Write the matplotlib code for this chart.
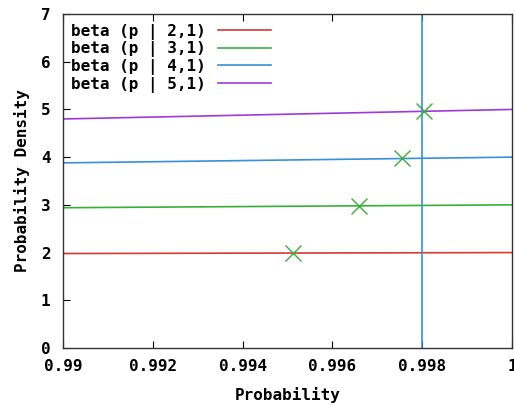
import matplotlib
matplotlib.use("Agg")
import matplotlib.pyplot as plt

# Data
x_curve = [0.99, 0.995, 1.0]
beta_2_1 = [1.98, 1.99, 2.0]
beta_3_1 = [2.94, 2.97, 3.0]
beta_4_1 = [3.88, 3.94, 4.0]
beta_5_1 = [4.80, 4.90, 5.0]
labels = ["beta (p | 2,1)", "beta (p | 3,1)", "beta (p | 4,1)", "beta (p | 5,1)"]
colors = ["#d83838", "#38b038", "#3890d8", "#a038d8"]

mark_x = [0.99512, 0.99659, 0.99755, 0.99804]
mark_y = [1.99, 2.98, 3.98, 4.97]
vline_x = 0.998

xticks = [0.99, 0.992, 0.994, 0.996, 0.998, 1.0]
xticklabels = ["0.99", "0.992", "0.994", "0.996", "0.998", "1"]
yticks = [0, 1, 2, 3, 4, 5, 6, 7]

plt.rcParams['font.family'] = ['DejaVu Sans Mono']
plt.rcParams['font.weight'] = 'bold'

FS = 11.5

fig = plt.figure(figsize=(5.14, 4.05), dpi=100)
ax = fig.add_axes([63/514, 1-348/405, 449/514, 334/405])

series = [beta_2_1, beta_3_1, beta_4_1, beta_5_1]
for ys, lab, c in zip(series, labels, colors):
    ax.plot(x_curve, ys, color=c, lw=1.2, label=lab)

ax.axvline(vline_x, color=colors[2], lw=1.2)
ax.plot(mark_x, mark_y, linestyle='none', marker='x', color="#38b038",
        markersize=11, markeredgewidth=1.0)

ax.set_xlim(0.99, 1.0)
ax.set_ylim(0, 7)
ax.set_xticks(xticks)
ax.set_xticklabels(xticklabels)
ax.set_yticks(yticks)
ax.tick_params(axis='both', direction='in', length=5, labelsize=FS,
               top=True, right=False)
ax.tick_params(axis='x', pad=8)
ax.tick_params(axis='y', pad=9)
for lbl in ax.get_xticklabels() + ax.get_yticklabels():
    lbl.set_fontweight('bold')
for s in ax.spines.values():
    s.set_color("#333333")
    s.set_linewidth(1.0)

ax.set_xlabel("Probability", fontsize=FS, fontweight='bold', labelpad=9)
ax.set_ylabel("Probability Density", fontsize=FS, fontweight='bold', labelpad=8)

leg = ax.legend(loc='upper left', frameon=False, markerfirst=False,
                prop={'family': 'DejaVu Sans Mono', 'weight': 'bold', 'size': FS},
                handlelength=3.3, handletextpad=0.8, labelspacing=0.1,
                borderaxespad=0.0, borderpad=0.2,
                bbox_to_anchor=(0.01, 0.98))

fig.savefig("out.png", dpi=100)
